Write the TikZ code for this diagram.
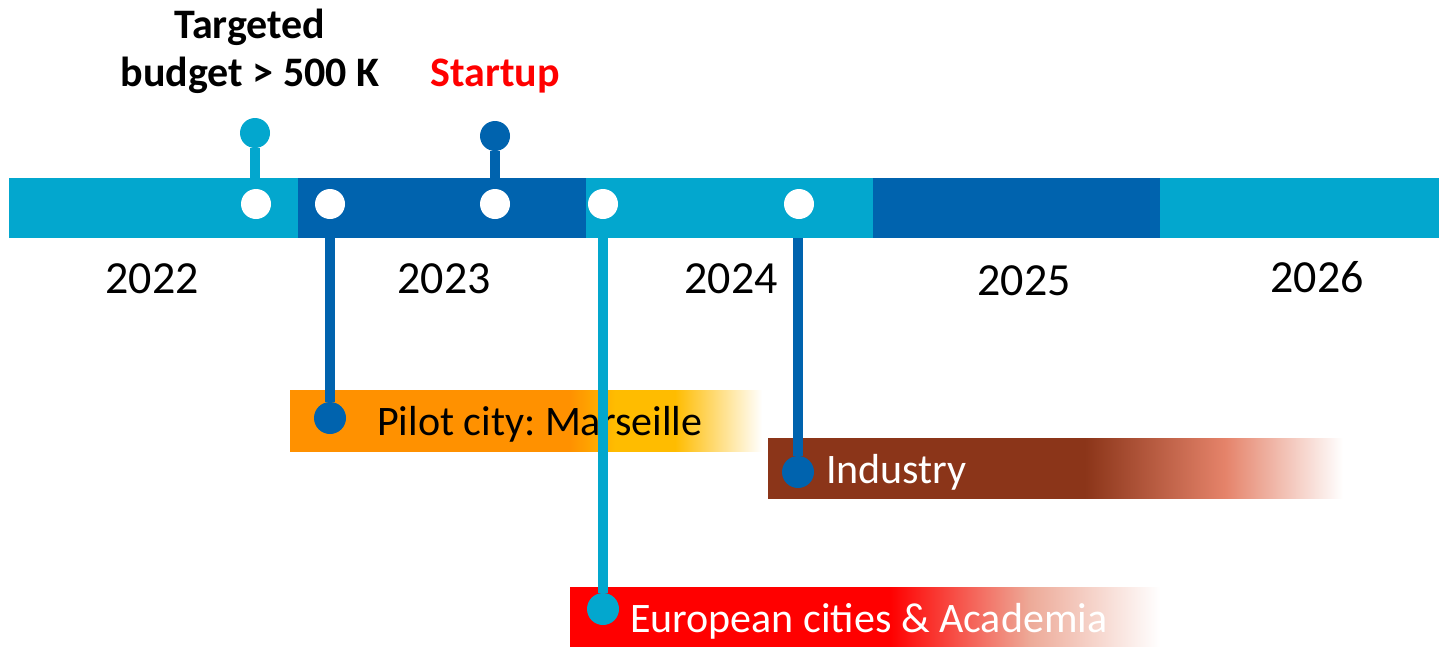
\documentclass[tikz,border=0pt]{standalone}
\usepackage{fontspec}
\setmainfont{Carlito}
\frenchspacing
\definecolor{lb}{HTML}{03A7CE}
\definecolor{db}{HTML}{0063AE}
\definecolor{orng}{HTML}{FF9100}
\definecolor{gold}{HTML}{FFBC00}
\definecolor{brwn}{HTML}{8B3519}
\definecolor{salm}{HTML}{E5836A}
\definecolor{pinkb}{HTML}{EDAA98}
\definecolor{redc}{HTML}{FF0000}
\pgfdeclarehorizontalshading{orangefade}{100bp}{color(0bp)=(orng); color(54.66bp)=(orng); color(59.43bp)=(gold); color(65.78bp)=(gold); color(75bp)=(white); color(100bp)=(white)}
\pgfdeclarehorizontalshading{brownfade}{100bp}{color(0bp)=(brwn); color(52.57bp)=(brwn); color(64.74bp)=(salm); color(75bp)=(white); color(100bp)=(white)}
\pgfdeclarehorizontalshading{redfade}{100bp}{color(0bp)=(redc); color(52.12bp)=(redc); color(63.98bp)=(pinkb); color(75bp)=(white); color(100bp)=(white)}
\tikzset{
  wdot/.style={circle, fill=white, minimum size=30, inner sep=0},
  pinl/.style={circle, fill=lb, minimum size=32, inner sep=0},
  pind/.style={circle, fill=db, minimum size=32, inner sep=0},
  stem/.style={line width=10pt},
  year/.style={font=\fontsize{46}{50}\selectfont, anchor=base, inner sep=0},
  lab/.style={font=\fontsize{42}{48}\selectfont, anchor=base west, inner sep=0},
  toplab/.style={font=\bfseries\fontsize{42}{48}\selectfont, anchor=base, inner sep=0},
}
\begin{document}
\begin{tikzpicture}[x=1pt,y=-1pt]
\useasboundingbox (0,0) rectangle (1439,646);
% timeline bar
\fill[lb] (9,178) rectangle (298,238);
\fill[db] (298,178) rectangle (586,238);
\fill[lb] (586,178) rectangle (873,238);
\fill[db] (873,178) rectangle (1160,238);
\fill[lb] (1160,178) rectangle (1439,238);
% years
\node[year] (y22) at (152,293) {2022};
\node[year] (y23) at (444,293) {2023};
\node[year] (y24) at (731,293) {2024};
\node[year] (y25) at (1024,295) {2025};
\node[year] (y26) at (1317,292) {2026};
% top labels
\node[toplab] (tg1) at (250,38) {Targeted};
\node[toplab] (tg2) at (250,86) {budget > 500 K};
\node[toplab, text=redc] (st) at (495,86) {Startup};
% gradient bars
\shade[shading=orangefade] (290,390) rectangle (762,451);
\shade[shading=brownfade] (768,438) rectangle (1343,498);
\shade[shading=redfade] (570,587) rectangle (1160,646);
\node[lab] (lp) at (377,435) {Pilot city: Marseille};
\node[lab, text=white] (li) at (826,483) {Industry};
\node[lab, text=white] (le) at (630,632) {European cities \& Academia};
% coordinates on bar edges
\coordinate (c1) at (255,178);
\coordinate (c2) at (495,178);
\coordinate (c3) at (330,238);
\coordinate (c4) at (603,238);
\coordinate (c5) at (798,238);
% pins
\node[pinl, minimum size=30] (t1) at (255,133) {};
\node[pind, minimum size=30] (t2) at (495,136) {};
\node[pind] (p3) at (330,418) {};
\node[pinl] (p4) at (603,609) {};
\node[pind] (p5) at (798,472) {};
\draw[stem, lb] (t1) -- (c1);
\draw[stem, db] (t2) -- (c2);
\draw[stem, db] (c3) -- (p3);
\draw[stem, lb] (c4) -- (p4);
\draw[stem, db] (c5) -- (p5);
% white dots
\node[wdot] (w1) at (256,204) {};
\node[wdot] (w2) at (330,204) {};
\node[wdot] (w3) at (495,204) {};
\node[wdot] (w4) at (603,204) {};
\node[wdot] (w5) at (799,204) {};
\end{tikzpicture}
\end{document}
